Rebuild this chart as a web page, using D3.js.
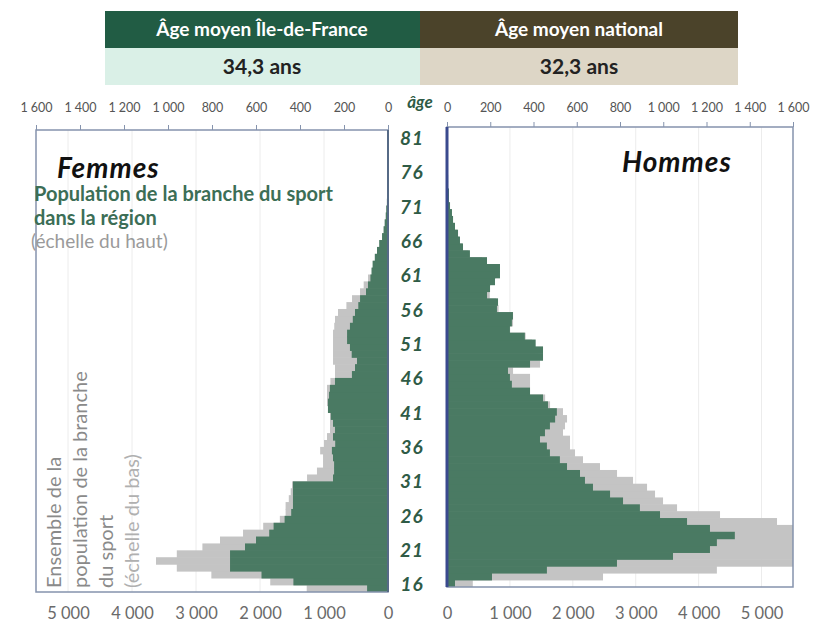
<!DOCTYPE html>
<html>
<head>
<meta charset="utf-8">
<script src="https://cdn.jsdelivr.net/npm/d3@7"></script>
<style>
  body { margin: 0; background: #fff; }
  svg { display: block; font-family: Lato, "Open Sans", sans-serif; }
</style>
</head>
<body>
<div id="chart"></div>
<script>
// ages 16 -> 82, one bar per year
var ages = [16,17,18,19,20,21,22,23,24,25,26,27,28,29,30,31,32,33,34,35,36,37,38,39,40,
  41,42,43,44,45,46,47,48,49,50,51,52,53,54,55,56,57,58,59,60,61,62,63,64,65,
  66,67,68,69,70,71,72,73,74,75,76,77,78,79,80,81,82];

// region (top scale)
var femmesRegion = [95,430,575,718,718,718,650,600,540,520,470,440,432,432,432,432,250,245,245,250,
  255,240,250,241,250,260,273,273,268,264,241,164,150,141,165,173,186,186,173,160,
  150,135,127,100,91,80,75,70,60,50,40,27,20,15,10,8,5,3,0,0,0,0,0,0,0,0,0];
var hommesRegion = [37,208,462,786,1045,1216,1248,1331,1216,1110,985,892,814,754,675,638,615,555,522,476,
  462,430,453,476,500,508,467,444,384,300,291,282,384,444,444,410,360,291,300,305,
  231,236,185,199,222,245,245,185,106,74,60,51,37,28,23,14,9,9,5,5,3,0,0,0,0,0,0];

// whole branch (bottom scale)
var femmesNational = [1270,1840,2760,3300,3625,3300,2900,2625,2265,1950,1690,1600,1600,1550,1520,1500,1265,1110,1015,1015,
  1060,1000,953,906,906,906,930,953,953,953,900,828,828,859,859,859,859,859,840,828,
  781,650,562,437,380,312,250,230,200,165,130,90,65,50,35,25,15,10,5,0,0,0,0,0,0,0,0];
var hommesNational = [410,2480,4290,5700,6000,6000,6000,5900,5700,5246,4340,3657,3434,3307,3180,2957,2703,2432,2162,2035,
  1955,1955,1844,1876,1908,1844,1638,1560,1272,1320,1320,1050,1479,1450,1400,1350,1250,1000,1050,1050,
  820,780,680,660,700,780,780,560,340,240,190,160,120,90,70,45,30,28,15,15,8,0,0,0,0,0,0];

var topTicks = [0,200,400,600,800,1000,1200,1400,1600];
var bottomTicks = [0,1000,2000,3000,4000,5000];
var ageTicks = [16,21,26,31,36,41,46,51,56,61,66,71,76,81];

var svgWidth = 813, svgHeight = 629;
var topMax = 1600, bottomMax = 5500;

var green = "#4a7a63", grey = "#c4c4c4";

var fr = d3.formatLocale({decimal: ",", thousands: "\u00a0", grouping: [3], currency: ["", " €"]});
var fmt = fr.format(",");

var svg = d3.select("#chart").append("svg")
  .attr("width", svgWidth)
  .attr("height", svgHeight);

// header boxes
var head = svg.append("g");
head.append("rect").attr("x", 105).attr("y", 11).attr("width", 315).attr("height", 37).attr("fill", "#215c44");
head.append("rect").attr("x", 420).attr("y", 11).attr("width", 318).attr("height", 37).attr("fill", "#4b432a");
head.append("rect").attr("x", 105).attr("y", 48).attr("width", 315).attr("height", 37).attr("fill", "#daf0e7");
head.append("rect").attr("x", 420).attr("y", 48).attr("width", 318).attr("height", 37).attr("fill", "#ddd6c6");
head.append("text").attr("x", 262).attr("y", 36).attr("text-anchor", "middle")
  .attr("fill", "#fff").attr("font-weight", "bold").attr("font-size", "19px").text("Âge moyen Île-de-France");
head.append("text").attr("x", 579).attr("y", 36).attr("text-anchor", "middle")
  .attr("fill", "#fff").attr("font-weight", "bold").attr("font-size", "19px").text("Âge moyen national");
head.append("text").attr("x", 262).attr("y", 74).attr("text-anchor", "middle")
  .attr("fill", "#222").attr("font-weight", "bold").attr("font-size", "21px").text("34,3 ans");
head.append("text").attr("x", 579).attr("y", 74).attr("text-anchor", "middle")
  .attr("fill", "#222").attr("font-weight", "bold").attr("font-size", "21px").text("32,3 ans");

function drawPanel(p) {
  var g = svg.append("g");
  var xTop = d3.scaleLinear().domain([0, topMax]).range(p.side == "left" ? [p.x1, p.x0] : [p.x0, p.x1]);
  var xBot = d3.scaleLinear().domain([0, bottomMax]).range(p.side == "left" ? [p.x1, p.x0] : [p.x0, p.x1]);
  var y = d3.scaleBand().domain(ages).range([p.bottom, p.top]);

  g.append("clipPath").attr("id", "clip-" + p.side)
    .append("rect").attr("x", p.x0).attr("y", p.top).attr("width", p.x1 - p.x0).attr("height", p.bottom - p.top);

  // gridlines from the bottom scale
  g.append("g").selectAll("line").data(bottomTicks.slice(1)).enter().append("line")
    .attr("x1", d => xBot(d)).attr("x2", d => xBot(d))
    .attr("y1", p.top).attr("y2", p.bottom)
    .attr("stroke", "#ececec").attr("stroke-width", 1);

  var bars = g.append("g").attr("clip-path", "url(#clip-" + p.side + ")");
  function barX(scale, v) { return p.side == "left" ? scale(v) : p.x0; }
  function barW(scale, v) { return Math.abs(scale(v) - scale(0)); }

  bars.selectAll("rect.nat").data(ages).enter().append("rect")
    .attr("class", "nat")
    .attr("x", (d, i) => barX(xBot, p.national[i]))
    .attr("y", d => y(d) - 0.3)
    .attr("width", (d, i) => barW(xBot, p.national[i]))
    .attr("height", y.bandwidth() + 0.6)
    .attr("fill", grey);

  bars.selectAll("rect.reg").data(ages).enter().append("rect")
    .attr("class", "reg")
    .attr("x", (d, i) => barX(xTop, p.region[i]))
    .attr("y", d => y(d) - 0.3)
    .attr("width", (d, i) => barW(xTop, p.region[i]))
    .attr("height", y.bandwidth() + 0.6)
    .attr("fill", green);

  // frame
  g.append("rect").attr("x", p.x0).attr("y", p.top)
    .attr("width", p.x1 - p.x0).attr("height", p.bottom - p.top)
    .attr("fill", "none").attr("stroke", "#8593ad").attr("stroke-width", 1.5);
  var zeroX = p.side == "left" ? p.x1 : p.x0;
  g.append("line").attr("x1", zeroX).attr("x2", zeroX).attr("y1", p.top).attr("y2", p.bottom)
    .attr("stroke", p.side == "left" ? "#566a86" : "#3a4a8e").attr("stroke-width", p.side == "left" ? 2 : 3);

  // little ticks on the top edge
  g.append("g").attr("transform", `translate(0, ${p.top})`)
    .call(d3.axisTop(xTop).tickValues(topTicks).tickSize(5).tickFormat(""))
    .call(s => s.select(".domain").remove())
    .call(s => s.selectAll("line").attr("stroke", "#8593ad"));

  // top labels
  g.append("g").attr("transform", "translate(0, 112)")
    .call(d3.axisTop(xTop).tickValues(topTicks).tickSize(0).tickPadding(0).tickFormat(fmt))
    .call(s => s.select(".domain").remove())
    .call(s => s.selectAll("text").attr("fill", "#555").attr("font-size", "12.5px").attr("font-family", "Lato, sans-serif"));

  // bottom labels
  g.append("g").attr("transform", "translate(0, 607)")
    .call(d3.axisBottom(xBot).tickValues(bottomTicks).tickSize(0).tickPadding(0).tickFormat(fmt))
    .call(s => s.select(".domain").remove())
    .call(s => s.selectAll("text").attr("fill", "#6a6a6a").attr("font-size", "16.5px").attr("font-family", "Lato, sans-serif"));

  return y;
}

var yLeft = drawPanel({side: "left", x0: 36, x1: 388, top: 130, bottom: 592,
  region: femmesRegion, national: femmesNational});
var yRight = drawPanel({side: "right", x0: 447, x1: 793, top: 127, bottom: 587,
  region: hommesRegion, national: hommesNational});

// age labels in the middle
svg.append("g").selectAll("text").data(ageTicks).enter().append("text")
  .attr("x", 412)
  .attr("y", d => yRight(d) + yRight.bandwidth() / 2 + 1)
  .attr("dy", "0.35em")
  .attr("text-anchor", "middle")
  .attr("font-size", "19px")
  .attr("font-weight", "bold")
  .attr("font-style", "italic")
  .attr("letter-spacing", "1px")
  .attr("fill", "#2f5b46")
  .text(d => d);

svg.append("text").attr("x", 420).attr("y", 108).attr("text-anchor", "middle")
  .attr("font-size", "17px").attr("font-weight", "bold").attr("font-style", "italic")
  .attr("fill", "#2f5b46").text("âge");

// panel titles and notes
svg.append("text").attr("x", 57).attr("y", 178)
  .attr("font-size", "28px").attr("font-weight", "bold").attr("font-style", "italic")
  .attr("letter-spacing", "1px").attr("fill", "#111").text("Femmes");
svg.append("text").attr("x", 622).attr("y", 172)
  .attr("font-size", "28px").attr("font-weight", "bold").attr("font-style", "italic")
  .attr("letter-spacing", "1px").attr("fill", "#111").text("Hommes");

var note = svg.append("text").attr("font-size", "20px").attr("fill", "#3c6e56").attr("font-weight", "bold");
note.append("tspan").attr("x", 34).attr("y", 201).text("Population de la branche du sport");
note.append("tspan").attr("x", 34).attr("y", 225).text("dans la région");
svg.append("text").attr("x", 31).attr("y", 248).attr("font-size", "19px").attr("fill", "#9a9a9a")
  .text("(échelle du haut)");

var vLines = [
  {t: "Ensemble de la", x: 61, c: "#8a8a8a"},
  {t: "population de la branche", x: 87, c: "#8a8a8a"},
  {t: "du sport", x: 113, c: "#8a8a8a"},
  {t: "(échelle du bas)", x: 139, c: "#b0b0b0"}
];
svg.append("g").selectAll("text").data(vLines).enter().append("text")
  .attr("transform", d => `translate(${d.x}, 588) rotate(-90)`)
  .attr("font-size", "20px")
  .attr("fill", d => d.c)
  .text(d => d.t);
</script>
</body>
</html>
